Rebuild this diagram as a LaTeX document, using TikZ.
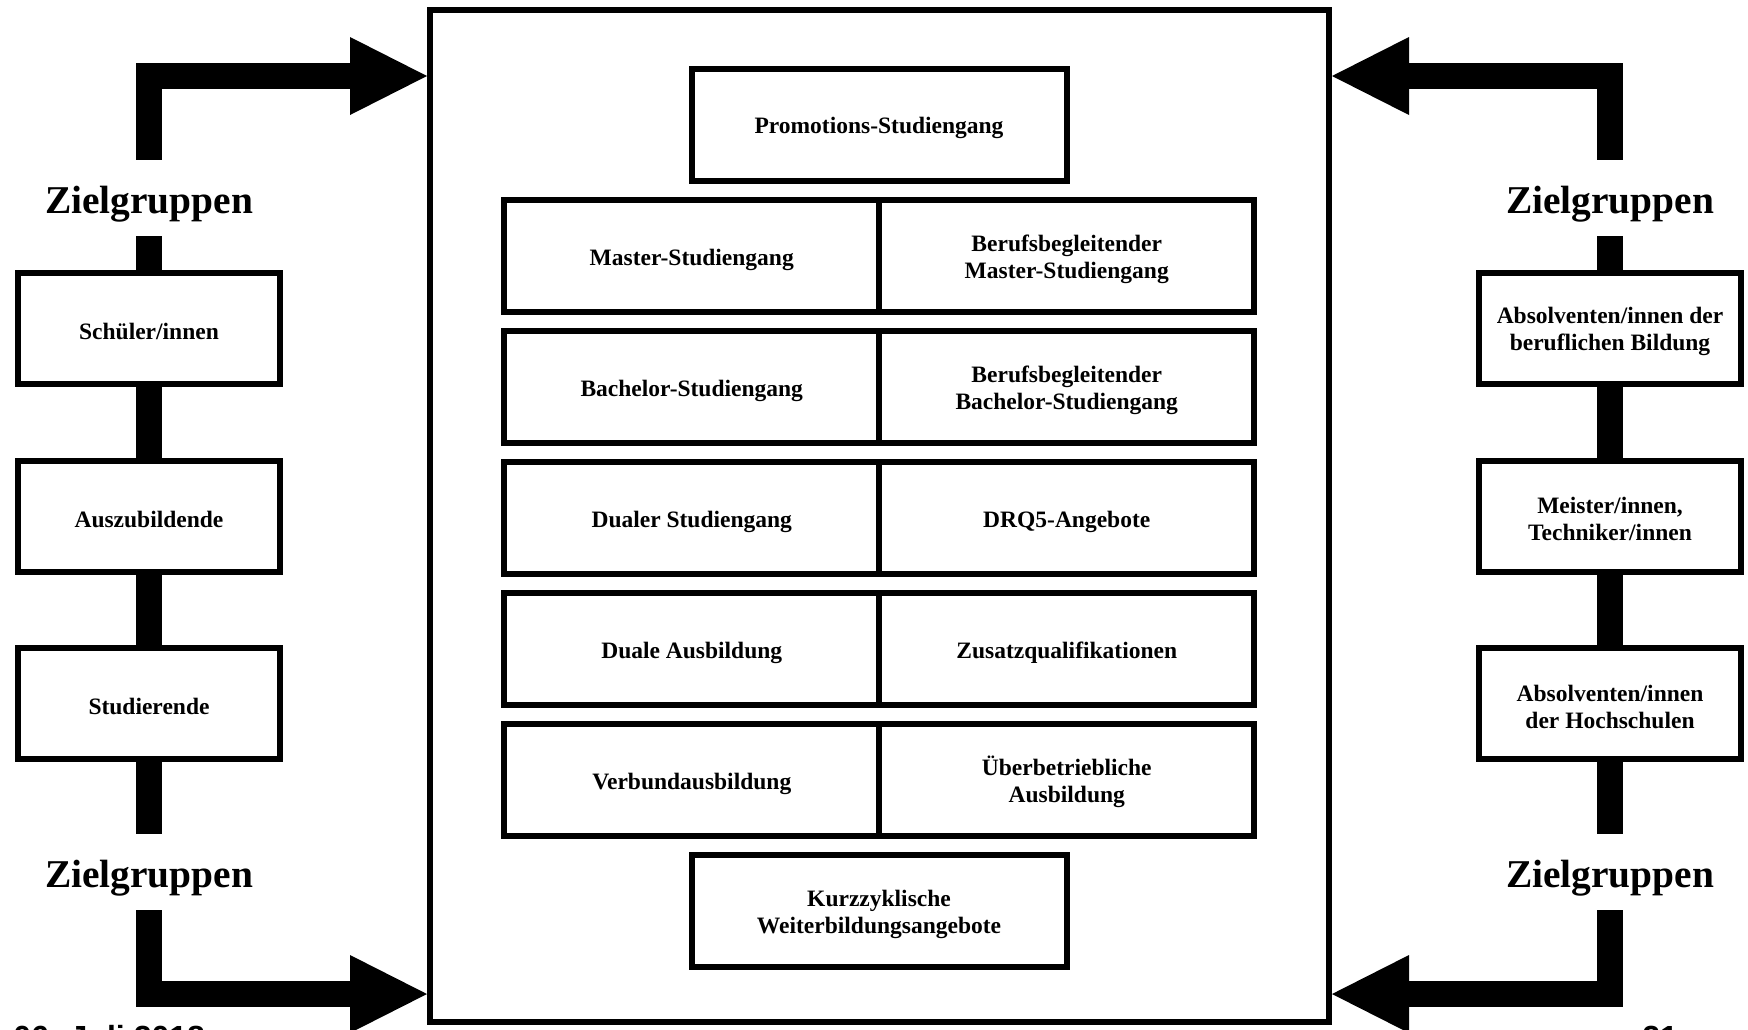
\documentclass[tikz,border=0pt]{standalone}
\usepackage{fontspec}
\setmainfont{Liberation Serif}
\newfontfamily\footfont{Liberation Sans}
\usetikzlibrary{positioning, arrows.meta}

\begin{document}
\begin{tikzpicture}[x=0.5pt, y=-0.5pt, every node/.style={inner sep=2pt},
  offer/.style={draw, line width=3pt, minimum width=187.5pt, minimum height=56pt, text height=12pt,
    align=center, font=\fontsize{11.75}{13.5}\selectfont\bfseries},
  group/.style={draw, line width=3pt, minimum width=131pt, minimum height=55.5pt, text height=11.5pt,
    align=center, font=\fontsize{11.75}{13.5}\selectfont\bfseries},
  twolines/.style={text height=25pt},
  zlabel/.style={font=\fontsize{19.7}{22}\selectfont\bfseries, minimum height=38pt, inner sep=0pt,
    text height=20pt, text depth=4.3pt},
  foot/.style={font=\footfont\fontsize{16}{18}\selectfont\bfseries, inner sep=0pt, anchor=base west},
  bar/.style={line width=13pt},
  bararrow/.style={bar, -{Triangle[length=38.5pt, width=39pt, line width=0pt]}}]
\useasboundingbox (0,0) rectangle (1748,1029);

% frame with the offers
\node[draw, line width=3pt, minimum width=449.5pt, minimum height=506pt] (frame) at (879.5,516) {};
\node[offer] (promo) at (879,124.5) {Promotions-Studiengang};
\node[offer] (ms) at (691.75,255.6) {Master-Studiengang};
\node[offer, twolines, right=-3pt of ms] (bms) {Berufsbegleitender\\Master-Studiengang};
\node[offer, below=6.55pt of ms] (bs) {Bachelor-Studiengang};
\node[offer, twolines, right=-3pt of bs] (bbs) {Berufsbegleitender\\Bachelor-Studiengang};
\node[offer, below=6.55pt of bs] (ds) {Dualer Studiengang};
\node[offer, right=-3pt of ds] (drq) {DRQ5-Angebote};
\node[offer, below=6.55pt of ds] (da) {Duale Ausbildung};
\node[offer, right=-3pt of da] (zq) {Zusatzqualifikationen};
\node[offer, below=6.55pt of da] (va) {Verbundausbildung};
\node[offer, twolines, right=-3pt of va] (ua) {Überbetriebliche\\Ausbildung};
\node[offer, twolines] (kurz) at (879,911.1) {Kurzzyklische\\Weiterbildungsangebote};

% left target groups
\node[zlabel] (zlt) at (149,198) {Zielgruppen};
\node[group] (sch) at (149,328.5) {Schüler/innen};
\node[group, below=35.25pt of sch] (azb) {Auszubildende};
\node[group, below=35.25pt of azb] (std) {Studierende};
\node[zlabel] (zlb) at (149,872) {Zielgruppen};

% right target groups
\node[zlabel] (zrt) at (1610,198) {Zielgruppen};
\node[group, twolines] (abb) at (1610,328.5) {Absolventen/innen der\\beruflichen Bildung};
\node[group, twolines, below=35.25pt of abb] (mt) {Meister/innen,\\Techniker/innen};
\node[group, twolines, below=35.25pt of mt] (ahs) {Absolventen/innen\\der Hochschulen};
\node[zlabel] (zrb) at (1610,872) {Zielgruppen};

\coordinate (toprow) at (0,76);
\coordinate (botrow) at (0,994);

% bars and arrows
\draw[bar] (zlt.south) -- (sch.north);
\draw[bar] (sch.south) -- (azb.north);
\draw[bar] (azb.south) -- (std.north);
\draw[bar] (std.south) -- (zlb.north);
\draw[bar] (zrt.south) -- (abb.north);
\draw[bar] (abb.south) -- (mt.north);
\draw[bar] (mt.south) -- (ahs.north);
\draw[bar] (ahs.south) -- (zrb.north);
\draw[bararrow] (zlt.north) |- (frame.west |- toprow);
\draw[bararrow] (zlb.south) |- (frame.west |- botrow);
\draw[bararrow] (zrt.north) |- (frame.east |- toprow);
\draw[bararrow] (zrb.south) |- (frame.east |- botrow);

% footer, cut off by the page
\node[foot] (date) at (13,1048) {06. Juli 2018};
\node[foot] (page) at (1642,1048) {21};
\end{tikzpicture}
\end{document}
